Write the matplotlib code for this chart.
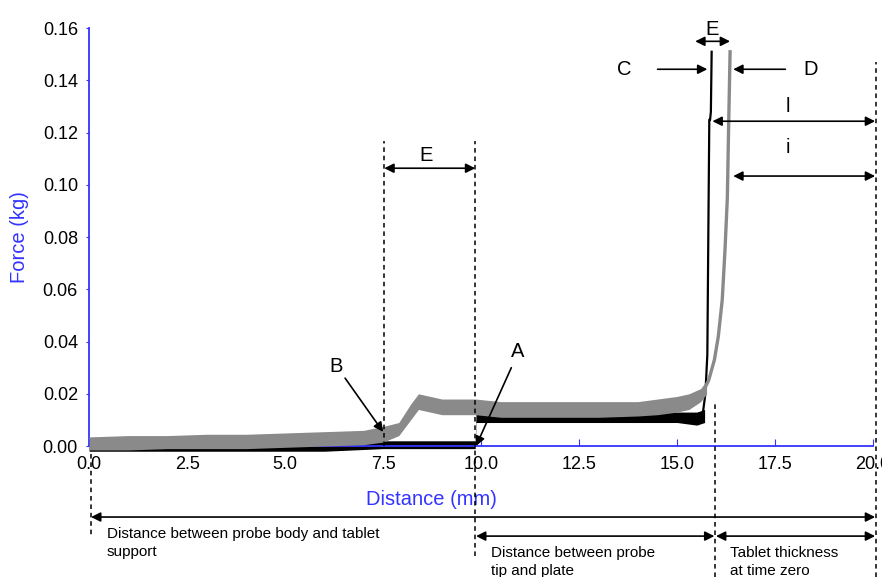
import matplotlib.pyplot as plt
import numpy as np

plt.rcParams['font.family'] = ['Liberation Sans', 'DejaVu Sans']

BLUE = '#3333ff'

# gray trace (probe D), noisy band read as lower / upper envelope
gray_x = [0.0, 1.0, 2.0, 3.0, 4.0, 5.0, 6.0, 7.0, 7.5, 7.9, 8.2, 8.4, 8.7,
          9.0, 9.5, 9.85, 10.5, 11.0, 12.0, 13.0, 14.0, 14.5, 15.0, 15.3,
          15.6, 15.75]
gray_lo = [-0.0015, -0.0015, -0.001, -0.001, -0.001, -0.0005, 0.0, 0.0005,
           0.0015, 0.004, 0.010, 0.014, 0.013, 0.012, 0.012, 0.012, 0.011,
           0.011, 0.011, 0.011, 0.0115, 0.012, 0.013, 0.014, 0.017, 0.020]
gray_hi = [0.0035, 0.004, 0.004, 0.0045, 0.0045, 0.005, 0.0055, 0.006,
           0.0075, 0.009, 0.016, 0.020, 0.019, 0.018, 0.018, 0.018, 0.017,
           0.017, 0.017, 0.017, 0.017, 0.018, 0.019, 0.020, 0.022, 0.025]
# gray steep rise
gray_rise_x = [15.6, 15.8, 15.95, 16.05, 16.15, 16.22, 16.28, 16.31, 16.35]
gray_rise_y = [0.019, 0.025, 0.033, 0.042, 0.056, 0.075, 0.095, 0.12, 0.151]

# black trace (probe C)
black_x = [0.0, 2.0, 4.0, 6.0, 7.5, 8.5, 9.5, 9.85, 9.87, 10.5, 12.0, 13.5,
           14.5, 15.0, 15.5, 15.7]
black_lo = [-0.002, -0.002, -0.002, -0.002, -0.001, -0.001, -0.001, -0.001,
            0.009, 0.009, 0.009, 0.009, 0.009, 0.009, 0.008, 0.009]
black_hi = [0.001, 0.001, 0.001, 0.001, 0.002, 0.002, 0.002, 0.002, 0.013,
            0.013, 0.013, 0.013, 0.013, 0.013, 0.013, 0.014]
black_rise_x = [15.65, 15.72, 15.77, 15.8, 15.82, 15.84, 15.86, 15.88]
black_rise_y = [0.012, 0.02, 0.035, 0.09, 0.125, 0.125, 0.128, 0.151]

xticks = [0.0, 2.5, 5.0, 7.5, 10.0, 12.5, 15.0, 17.5, 20.0]
yticks = [0.00, 0.02, 0.04, 0.06, 0.08, 0.10, 0.12, 0.14, 0.16]

fig = plt.figure(figsize=(8.82, 5.77), dpi=100)
ax = fig.add_axes([0.101, 0.227, 0.889, 0.724])

ax.fill_between(gray_x, gray_lo, gray_hi, color='#8a8a8a', lw=0,
                clip_on=False, zorder=3)
ax.plot(gray_rise_x, gray_rise_y, color='#8a8a8a', lw=2.4, clip_on=False,
        zorder=3)
ax.fill_between(black_x, black_lo, black_hi, color='black', lw=0,
                clip_on=False, zorder=2)
ax.plot(black_rise_x, black_rise_y, color='black', lw=1.6, clip_on=False,
        zorder=2)

ax.set_xlim(0, 20)
ax.set_ylim(0, 0.16)
ax.set_xticks(xticks)
ax.set_xticklabels([f'{v:.1f}' for v in xticks])
ax.set_yticks(yticks)
ax.set_yticklabels([f'{v:.2f}' for v in yticks])
ax.tick_params(axis='x', direction='in', length=5, color=BLUE, labelsize=13,
               pad=7)
ax.tick_params(axis='y', direction='out', length=2, color=BLUE, labelsize=13,
               pad=6)
for side in ['top', 'right']:
    ax.spines[side].set_visible(False)
for side in ['left', 'bottom']:
    ax.spines[side].set_color(BLUE)
    ax.spines[side].set_linewidth(1.3)

ax.set_xlabel('Distance (mm)', color=BLUE, fontsize=14.5)
ax.xaxis.set_label_coords(0.436, -0.105)
ax.set_ylabel('Force (kg)', color=BLUE, fontsize=14.5, labelpad=10)

dash = dict(color='black', ls=(0, (3, 2.5)), lw=1.1, clip_on=False,
            zorder=4)
ax.plot([7.53, 7.53], [0.0, 0.117], **dash)
ax.plot([9.85, 9.85], [-0.042, 0.117], **dash)
ax.plot([15.97, 15.97], [-0.05, 0.016], **dash)
ax.plot([20.08, 20.08], [-0.05, 0.147], **dash)
ax.plot([0.05, 0.05], [-0.003, -0.034], **dash)

arr2 = dict(arrowstyle='<|-|>', color='black', lw=1.2, mutation_scale=14,
            shrinkA=0, shrinkB=0)
arr1 = dict(arrowstyle='-|>', color='black', lw=1.2, mutation_scale=14,
            shrinkA=0, shrinkB=0)


def dbl(x0, x1, y):
    ax.annotate('', xy=(x1, y), xytext=(x0, y), arrowprops=arr2,
                annotation_clip=False)


def one(x0, y0, x1, y1):
    ax.annotate('', xy=(x1, y1), xytext=(x0, y0), arrowprops=arr1,
                annotation_clip=False)


lbl = dict(fontsize=14.5, ha='center', va='center', clip_on=False)

dbl(7.53, 9.85, 0.1064)
ax.text(8.6, 0.1114, 'E', **lbl)
dbl(15.46, 16.35, 0.155)
ax.text(15.9, 0.1595, 'E', **lbl)
one(14.5, 0.1443, 15.77, 0.1443)
ax.text(13.65, 0.1443, 'C', **lbl)
one(17.76, 0.1443, 16.43, 0.1443)
ax.text(18.4, 0.1443, 'D', **lbl)
dbl(15.9, 20.05, 0.1244)
ax.text(17.83, 0.130, 'l', **lbl)
dbl(16.43, 20.05, 0.1034)
ax.text(17.83, 0.1145, 'i', **lbl)
one(6.53, 0.026, 7.5, 0.0054)
ax.text(6.3, 0.0306, 'B', **lbl)
one(10.77, 0.030, 9.87, 0.0)
ax.text(10.92, 0.0362, 'A', **lbl)

dbl(0.05, 20.05, -0.0272)
dbl(9.87, 15.95, -0.0345)
dbl(15.99, 20.05, -0.0345)

small = dict(fontsize=11, ha='left', va='top', clip_on=False,
             linespacing=1.35)
ax.text(0.45, -0.0312, 'Distance between probe body and tablet\nsupport',
        **small)
ax.text(10.25, -0.0382, 'Distance between probe\ntip and plate', **small)
ax.text(16.35, -0.0382, 'Tablet thickness\nat time zero', **small)

fig.savefig('out.png', dpi=100)
